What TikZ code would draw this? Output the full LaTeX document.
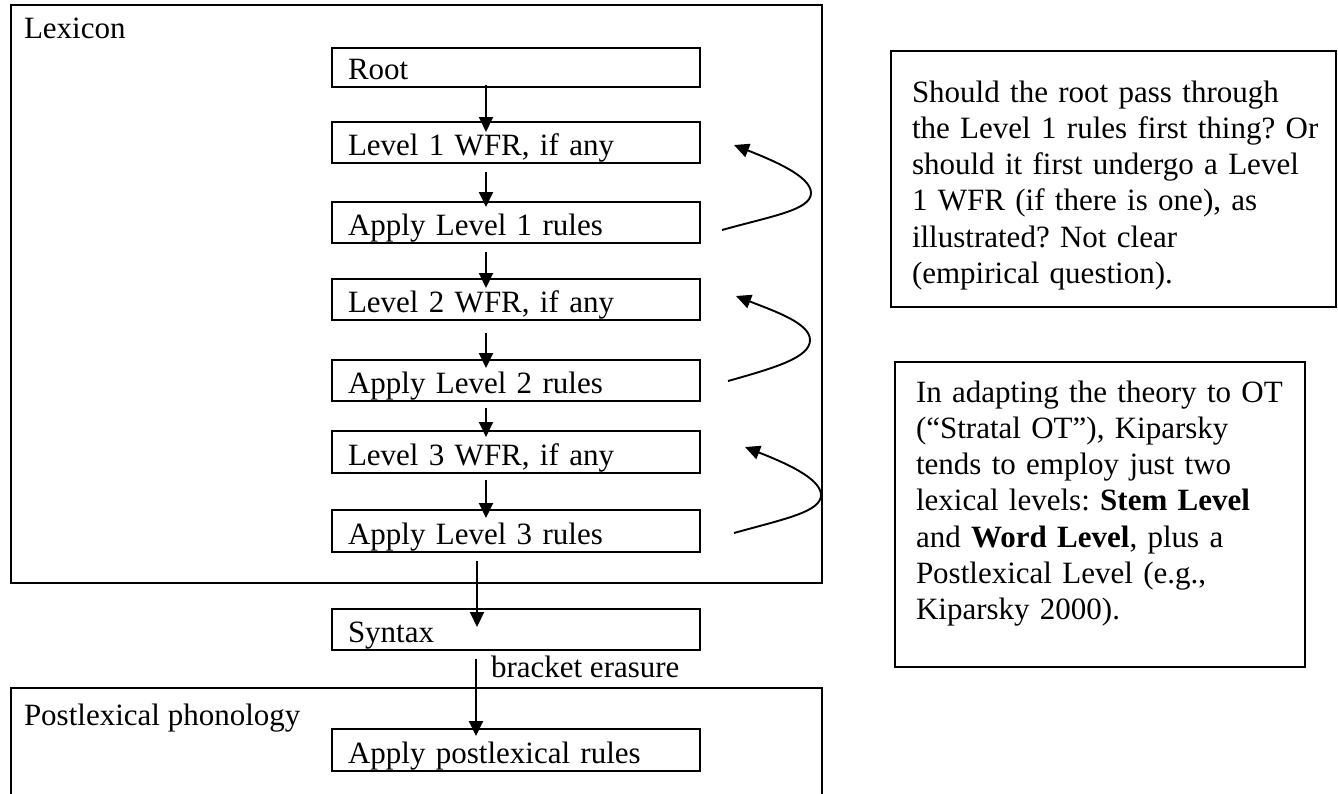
\documentclass[tikz,border=0pt]{standalone}
\usepackage{fontspec}
\setmainfont{Liberation Serif}
\usetikzlibrary{arrows.meta}
\frenchspacing
\begin{document}
\begin{tikzpicture}[x=1pt,y=-1pt,
  every node/.style={font=\frenchspacing\fontsize{31}{36.3}\selectfont, outer sep=0pt},
  frame/.style={draw, line width=2.3pt},
  stepbox/.style={draw, line width=2.3pt, anchor=north west, minimum width=368pt,
    text width=336pt, inner xsep=16pt, inner ysep=0pt, text depth=8pt, align=left},
  boxA/.style={stepbox, minimum height=41pt, text height=33pt},
  boxB/.style={stepbox, minimum height=42pt, text height=34pt},
  lbl/.style={anchor=base west, inner sep=0pt},
  note/.style={anchor=base west, inner sep=0pt, text width=420pt, align=left},
  arr/.style={line width=1.9pt, -{Triangle[length=15pt,width=14pt]}},
  curv/.style={line width=1.9pt, -{Triangle[length=15pt,width=14pt]}}
]
\clip (0,0) rectangle (1338,793);
\fill[white] (0,0) rectangle (1338,793);

% containers
\node[frame, anchor=north west, minimum width=811pt, minimum height=578pt, inner sep=0pt] (lex) at (11,5) {};
\node[lbl] (lexlbl) at (24,38) {Lexicon};
\node[frame, anchor=north west, minimum width=811pt, minimum height=160pt, inner sep=0pt] (postbox) at (11,688) {};
\node[lbl] (postlbl) at (24,725) {Postlexical phonology};

% steps
\node[stepbox, minimum height=39pt, text height=31pt] (root) at (332,48) {Root};
\node[boxA] (wfr1) at (332,122) {Level 1 WFR, if any};
\node[boxA] (app1) at (332,202) {Apply Level 1 rules};
\node[boxA] (wfr2) at (332,279) {Level 2 WFR, if any};
\node[boxA] (app2) at (332,360) {Apply Level 2 rules};
\node[boxB] (wfr3) at (332,431) {Level 3 WFR, if any};
\node[boxB] (app3) at (332,510) {Apply Level 3 rules};
\node[boxA] (syn) at (332,609) {Syntax};
\node[boxB] (post) at (332,729) {Apply postlexical rules};

% vertical arrows
\draw[arr] ([xshift=-30pt,yshift=2pt]root.south) -- ([xshift=-30pt,yshift=-10pt]wfr1.north);
\draw[arr] ([xshift=-30pt,yshift=-9pt]wfr1.south) -- ([xshift=-30pt,yshift=-5pt]app1.north);
\draw[arr] ([xshift=-30pt,yshift=-9pt]app1.south) -- ([xshift=-30pt,yshift=-9pt]wfr2.north);
\draw[arr] ([xshift=-30pt,yshift=-13pt]wfr2.south) -- ([xshift=-30pt,yshift=-8pt]app2.north);
\draw[arr] ([xshift=-30pt,yshift=-7pt]app2.south) -- ([xshift=-30pt,yshift=-6pt]wfr3.north);
\draw[arr] ([xshift=-30pt,yshift=-7pt]wfr3.south) -- ([xshift=-30pt,yshift=-8pt]app3.north);
\draw[arr] ([xshift=-39pt,yshift=-9pt]app3.south) -- ([xshift=-39pt,yshift=-18pt]syn.north);
\draw[arr] ([xshift=-40pt,yshift=-9pt]syn.south) -- ([xshift=-40pt,yshift=-7pt]post.north);
\node[lbl] (be) at (491,677) {bracket erasure};

% curved loop arrows
\coordinate (c1s) at (722,230); \coordinate (c1a) at (811,193); \coordinate (c1t) at (734,145);
\coordinate (c2s) at (728,381); \coordinate (c2a) at (810,340); \coordinate (c2t) at (736,296);
\coordinate (c3s) at (734,533); \coordinate (c3a) at (821,495); \coordinate (c3t) at (745,447);
\draw[curv] (c1s) .. controls (772,216) and (811,210) .. (c1a) .. controls (811,176) and (772,160) .. (c1t);
\draw[curv] (c2s) .. controls (778,367) and (810,357) .. (c2a) .. controls (810,323) and (774,311) .. (c2t);
\draw[curv] (c3s) .. controls (784,519) and (821,512) .. (c3a) .. controls (821,478) and (783,462) .. (c3t);

% notes
\node[frame, anchor=north west, minimum width=445pt, minimum height=256pt, inner sep=0pt] (n1box) at (891,51) {};
\node[note] (n1) at (912,102) {Should the root pass through\\
the Level 1 rules first thing? Or\\
should it first undergo a Level\\
1 WFR (if there is one), as\\
illustrated? Not clear\\
(empirical question).};
\node[frame, anchor=north west, minimum width=410pt, minimum height=305pt, inner sep=0pt] (n2box) at (895,362) {};
\node[note] (n2) at (916,402) {In adapting the theory to OT\\
(“Stratal OT”), Kiparsky\\
tends to employ just two\\
lexical levels: \textbf{Stem Level}\\
and \textbf{Word Level}, plus a\\
Postlexical Level (e.g.,\\
Kiparsky 2000).};
\end{tikzpicture}
\end{document}
